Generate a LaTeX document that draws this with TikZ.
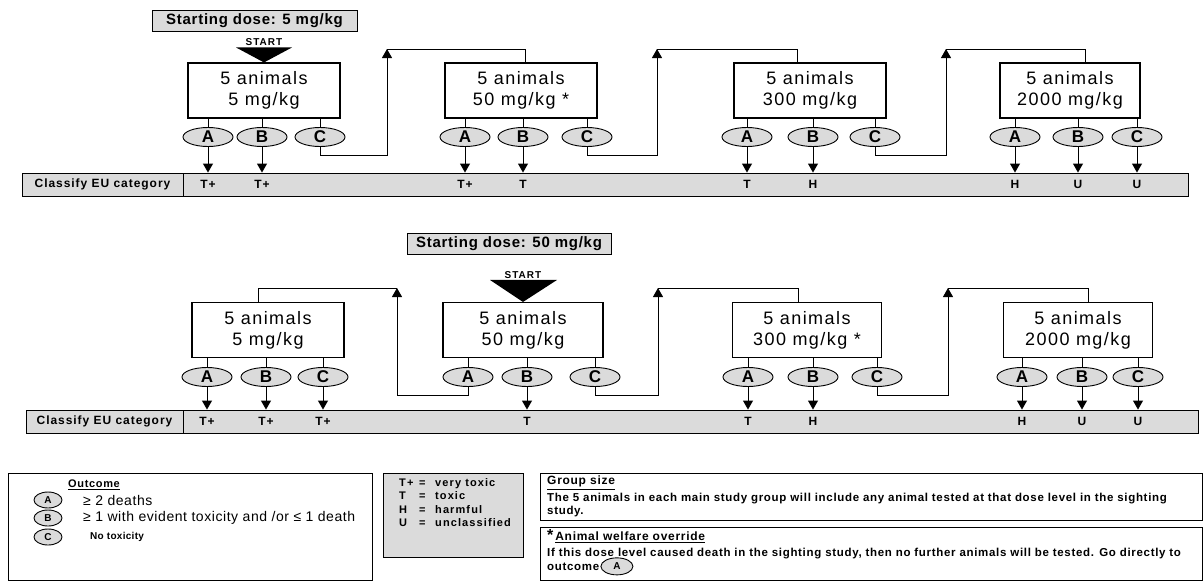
\documentclass[tikz,border=0pt]{standalone}
\usepackage{fontspec}
\setmainfont{Liberation Sans}
\usetikzlibrary{arrows.meta, shapes.geometric, positioning}
\definecolor{stip}{gray}{0.86}

\begin{document}
\begin{tikzpicture}[x=1pt, y=-1pt,
    animbox/.style={rectangle, draw, fill=white, line width=1.1pt,
                minimum width=152pt, minimum height=55pt, align=center, inner sep=2pt,
                font=\fontsize{18}{21}\selectfont\addfontfeature{LetterSpace=8}},
    outc/.style={ellipse, draw, fill=stip, line width=0.9pt,
                minimum width=50pt, minimum height=19pt, inner sep=0pt,
                font=\fontsize{17}{17}\bfseries\selectfont},
    sdbox/.style={rectangle, draw, fill=stip, line width=1pt,
                minimum width=205pt, minimum height=21pt, inner sep=1pt,
                font=\fontsize{15}{15}\bfseries\selectfont\addfontfeature{LetterSpace=5}},
    cell/.style={rectangle, draw, fill=stip, line width=0.9pt, minimum height=23pt, inner sep=0pt,
                font=\fontsize{12}{12}\bfseries\selectfont\addfontfeature{LetterSpace=8}},
    cat/.style={inner sep=1pt, font=\fontsize{12}{12}\bfseries\selectfont\addfontfeature{LetterSpace=8}},
    startlbl/.style={inner sep=0pt, font=\fontsize{10}{10}\bfseries\selectfont\addfontfeature{LetterSpace=10}},
    legell/.style={ellipse, draw, fill=stip, line width=0.9pt,
                minimum width=28pt, minimum height=16pt, inner sep=0pt,
                font=\fontsize{10}{10}\bfseries\selectfont},
    legtxt/.style={anchor=west, inner sep=0pt, font=\fontsize{14}{14}\selectfont\addfontfeature{LetterSpace=4}},
    note/.style={anchor=north west, align=left, inner sep=0pt,
                font=\fontsize{11.5}{13.5}\bfseries\selectfont\addfontfeature{LetterSpace=6}},
    frame/.style={draw, line width=1pt},
    lnk/.style={line width=0.9pt},
    arr/.style={lnk, -{Triangle[length=9pt, width=10pt]}}
  ]
  \path[fill=white, use as bounding box] (0,0) rectangle (1204,581);

  % ---------- first series: start at 5 mg/kg ----------
  \node[sdbox] (sd1) at (254.5,20.5) {Starting dose: 5 mg/kg};
  \node[animbox] (t5) at (264,90.5) {5 animals\\5 mg/kg};
  \node[animbox] (t50) at (521,90.5) {5 animals\\50 mg/kg *};
  \node[animbox] (t300) at (810,90.5) {5 animals\\300 mg/kg};
  \node[animbox, minimum width=140pt] (t2000) at (1070,90.5) {5 animals\\2000 mg/kg};

  \fill ([xshift=-28pt, yshift=15pt]t5.north) -- ([xshift=28pt, yshift=15pt]t5.north) -- (t5.north) -- cycle;
  \node[startlbl] (go1) at (264,42) {START};

  \node[outc] (t5a) at (208,137) {A};
  \node[outc] (t5b) at (262,137) {B};
  \node[outc] (t5c) at (320,137) {C};
  \node[outc] (t50a) at (465,137) {A};
  \node[outc] (t50b) at (523,137) {B};
  \node[outc] (t50c) at (587,137) {C};
  \node[outc] (t300a) at (747,137) {A};
  \node[outc] (t300b) at (813,137) {B};
  \node[outc] (t300c) at (875,137) {C};
  \node[outc] (t2000a) at (1015,137) {A};
  \node[outc] (t2000b) at (1078,137) {B};
  \node[outc] (t2000c) at (1137,137) {C};

  \node[cell, minimum width=161pt] (cls1) at (102.5,184.5) {Classify EU category};
  \node[cell, minimum width=1005pt] (bar1) at (685.5,184.5) {};

  \foreach \e in {t5a,t5b,t5c}{\draw[lnk] (\e) -- (\e |- t5.south);}
  \foreach \e in {t50a,t50b,t50c}{\draw[lnk] (\e) -- (\e |- t50.south);}
  \foreach \e in {t300a,t300b,t300c}{\draw[lnk] (\e) -- (\e |- t300.south);}
  \foreach \e in {t2000a,t2000b,t2000c}{\draw[lnk] (\e) -- (\e |- t2000.south);}

  \foreach \e in {t5a,t5b,t50a,t50b,t300a,t300b,t2000a,t2000b,t2000c}{
    \draw[arr] (\e) -- (\e |- bar1.north);}

  \coordinate (up1) at (387,49);
  \coordinate (up2) at (657,49);
  \coordinate (up3) at (946,49);
  \draw[arr] (t5c.south) -- ++(0,8) -| (up1);
  \draw[arr] (t50c.south) -- ++(0,8) -| (up2);
  \draw[arr] (t300c.south) -- ++(0,8) -| (up3);
  \draw[lnk] ([xshift=4pt]t50.north) |- (up1);
  \draw[lnk] ([xshift=-13pt]t300.north) |- (up2);
  \draw[lnk] ([xshift=15pt]t2000.north) |- (up3);

  \node[cat] (ct5a) at (t5a |- bar1) {T+};
  \node[cat] (ct5b) at (t5b |- bar1) {T+};
  \node[cat] (ct50a) at (t50a |- bar1) {T+};
  \node[cat] (ct50b) at (t50b |- bar1) {T};
  \node[cat] (ct300a) at (t300a |- bar1) {T};
  \node[cat] (ct300b) at (t300b |- bar1) {H};
  \node[cat] (ct2000a) at (t2000a |- bar1) {H};
  \node[cat] (ct2000b) at (t2000b |- bar1) {U};
  \node[cat] (ct2000c) at (t2000c |- bar1) {U};

  % ---------- second series: start at 50 mg/kg ----------
  \node[sdbox, minimum width=204pt] (sd2) at (509,244) {Starting dose: 50 mg/kg};
  \node[animbox] (s5) at (268,330) {5 animals\\5 mg/kg};
  \node[animbox, minimum width=160pt] (s50) at (523,330) {5 animals\\50 mg/kg};
  \node[animbox, minimum width=149pt] (s300) at (807,330) {5 animals\\300 mg/kg *};
  \node[animbox, minimum width=149pt] (s2000) at (1078,330) {5 animals\\2000 mg/kg};

  \fill ([xshift=-33pt, yshift=22pt]s50.north) -- ([xshift=34pt, yshift=22pt]s50.north) -- (s50.north) -- cycle;
  \node[startlbl] (go2) at (523,275) {START};

  \node[outc] (s5a) at (207,377) {A};
  \node[outc] (s5b) at (266,377) {B};
  \node[outc] (s5c) at (323,377) {C};
  \node[outc] (s50a) at (468,377) {A};
  \node[outc] (s50b) at (527,377) {B};
  \node[outc] (s50c) at (595,377) {C};
  \node[outc] (s300a) at (748,377) {A};
  \node[outc] (s300b) at (813,377) {B};
  \node[outc] (s300c) at (877,377) {C};
  \node[outc] (s2000a) at (1022,377) {A};
  \node[outc] (s2000b) at (1082,377) {B};
  \node[outc] (s2000c) at (1138,377) {C};

  \node[cell, minimum width=157pt] (cls2) at (104.5,421.5) {Classify EU category};
  \node[cell, minimum width=1015pt] (bar2) at (690.5,421.5) {};

  \foreach \e in {s5a,s5b,s5c}{\draw[lnk] (\e) -- (\e |- s5.south);}
  \foreach \e in {s50a,s50b,s50c}{\draw[lnk] (\e) -- (\e |- s50.south);}
  \foreach \e in {s300a,s300b,s300c}{\draw[lnk] (\e) -- (\e |- s300.south);}
  \foreach \e in {s2000a,s2000b,s2000c}{\draw[lnk] (\e) -- (\e |- s2000.south);}

  \foreach \e in {s5a,s5b,s5c,s50b,s300a,s300b,s2000a,s2000b,s2000c}{
    \draw[arr] (\e) -- (\e |- bar2.north);}

  \coordinate (up4) at (397,288);
  \coordinate (up5) at (658,288);
  \coordinate (up6) at (948,288);
  \draw[arr] (s50a.south) -- ++(0,8) -| (up4);
  \draw[arr] (s50c.south) -- ++(0,8) -| (up5);
  \draw[arr] (s300c.south) -- ++(0,8) -| (up6);
  \draw[lnk] ([xshift=-10pt]s5.north) |- (up4);
  \draw[lnk] ([xshift=-9pt]s300.north) |- (up5);
  \draw[lnk] ([xshift=10pt]s2000.north) |- (up6);

  \node[cat] (cs5a) at (s5a |- bar2) {T+};
  \node[cat] (cs5b) at (s5b |- bar2) {T+};
  \node[cat] (cs5c) at (s5c |- bar2) {T+};
  \node[cat] (cs50b) at (s50b |- bar2) {T};
  \node[cat] (cs300a) at (s300a |- bar2) {T};
  \node[cat] (cs300b) at (s300b |- bar2) {H};
  \node[cat] (cs2000a) at (s2000a |- bar2) {H};
  \node[cat] (cs2000b) at (s2000b |- bar2) {U};
  \node[cat] (cs2000c) at (s2000c |- bar2) {U};

  % ---------- legends ----------
  \draw[frame] (8,473) rectangle (372,580);
  \node[inner sep=0pt, font=\fontsize{11}{11}\bfseries\selectfont\addfontfeature{LetterSpace=6}] (ohead) at (94,485) {\underline{Outcome}};
  \node[legell] (la) at (48,500) {A};
  \node[legell] (lb) at (48,518) {B};
  \node[legell] (lc) at (48,537) {C};
  \node[legtxt] (lat) at (83,500) {≥ 2 deaths};
  \node[legtxt] (lbt) at (83,518) {≥ 1 with evident toxicity and /or ≤ 1 death};
  \node[legtxt, font=\fontsize{10}{10}\bfseries\selectfont\addfontfeature{LetterSpace=3}] (lct) at (90,537) {No toxicity};

  \draw[frame, fill=stip] (383,473) rectangle (523,557);
  \node[note, font=\fontsize{11}{13.5}\bfseries\selectfont\addfontfeature{LetterSpace=10}] (tkey) at (399,478)
    {\makebox[20pt][l]{T+}\makebox[16pt][l]{=}very toxic\\
     \makebox[20pt][l]{T}\makebox[16pt][l]{=}toxic\\
     \makebox[20pt][l]{H}\makebox[16pt][l]{=}harmful\\
     \makebox[20pt][l]{U}\makebox[16pt][l]{=}unclassified};

  \draw[frame] (540,473) rectangle (1202,520);
  \node[note] (grp) at (547,476)
    {{\fontsize{12}{13.5}\selectfont\underline{Group size}}\\[3pt]
     The 5 animals in each main study group will include any animal tested at that dose level in the sighting\\
     study.};

  \draw[frame] (540,527) rectangle (1202,580);
  \node[note] (wlf) at (547,529)
    {{\fontsize{16}{13.5}\selectfont *}\,{\fontsize{12}{13.5}\selectfont\underline{Animal welfare override}}\\[3pt]
     If this dose level caused death in the sighting study, then no further animals will be tested. Go directly to};
  \node[note, below=3pt of wlf.south west, anchor=north west] (wout) {outcome};
  \node[legell, minimum width=32pt, minimum height=17pt, right=1pt of wout] (wla) {A};
\end{tikzpicture}
\end{document}
